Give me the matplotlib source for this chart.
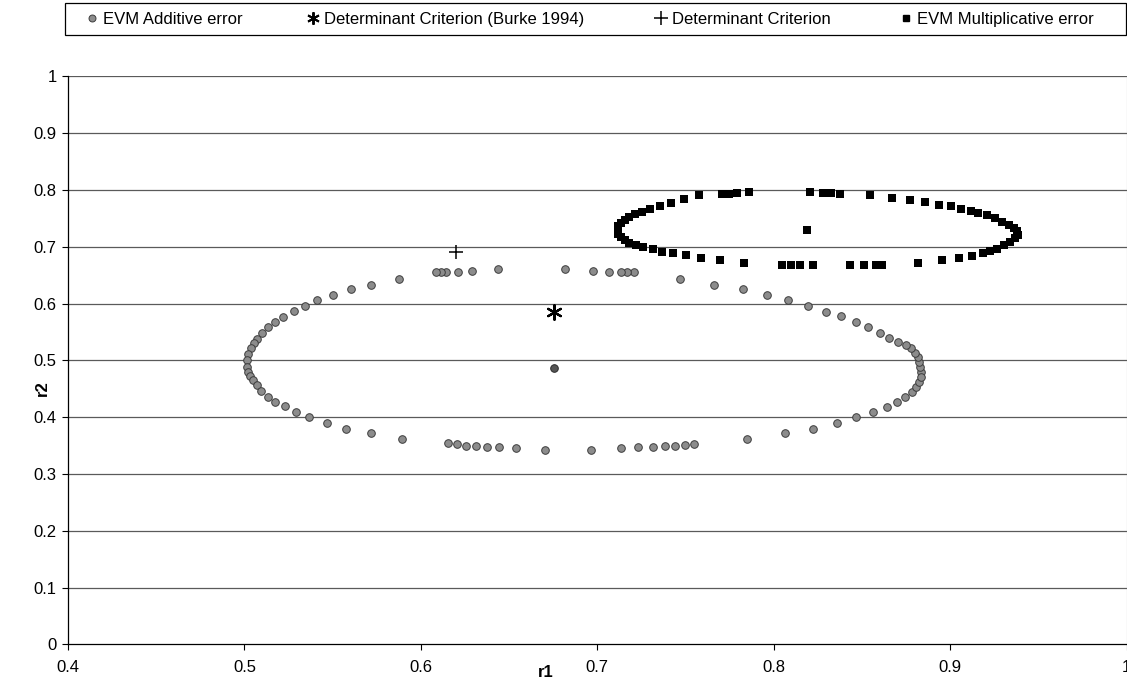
import matplotlib
matplotlib.use("Agg")
import matplotlib.pyplot as plt
from matplotlib.lines import Line2D
from matplotlib.patches import Rectangle

plt.rcParams["font.family"] = ["Liberation Sans", "DejaVu Sans"]

# EVM additive error confidence region (points around the ellipse)
add_r1 = [0.8834, 0.8830, 0.8824, 0.8815, 0.8802, 0.8777, 0.8749, 0.8702, 0.8655, 0.8600,
          0.8533, 0.8464, 0.8383, 0.8294, 0.8195, 0.8082, 0.7960, 0.7823, 0.7660, 0.7470,
          0.7210, 0.7168, 0.7134, 0.7065, 0.6975, 0.6815, 0.6439, 0.6287, 0.6212, 0.6145,
          0.6115, 0.6085, 0.5876, 0.5716, 0.5604, 0.5504, 0.5410, 0.5341, 0.5279, 0.5219,
          0.5176, 0.5134, 0.5102, 0.5072, 0.5054, 0.5035, 0.5021, 0.5012, 0.5016, 0.5021,
          0.5031, 0.5050, 0.5069, 0.5093, 0.5134, 0.5172, 0.5232, 0.5294, 0.5365, 0.5466,
          0.5576, 0.5716, 0.5895, 0.6153, 0.6203, 0.6254, 0.6310, 0.6373, 0.6445, 0.6542,
          0.6706, 0.6965, 0.7134, 0.7228, 0.7314, 0.7382, 0.7440, 0.7495, 0.7547, 0.7848,
          0.8064, 0.8224, 0.8359, 0.8468, 0.8561, 0.8640, 0.8699, 0.8744, 0.8781, 0.8806,
          0.8824, 0.8834]
add_r2 = [0.479, 0.488, 0.497, 0.506, 0.513, 0.521, 0.527, 0.532, 0.540, 0.549,
          0.559, 0.567, 0.578, 0.586, 0.596, 0.606, 0.615, 0.625, 0.633, 0.643,
          0.655, 0.655, 0.655, 0.656, 0.657, 0.661, 0.661, 0.657, 0.655, 0.655,
          0.655, 0.655, 0.643, 0.633, 0.625, 0.615, 0.606, 0.595, 0.587, 0.577,
          0.567, 0.559, 0.549, 0.538, 0.531, 0.521, 0.512, 0.500, 0.489, 0.479,
          0.472, 0.465, 0.456, 0.447, 0.436, 0.426, 0.419, 0.409, 0.400, 0.390,
          0.379, 0.372, 0.362, 0.354, 0.352, 0.349, 0.349, 0.348, 0.348, 0.345,
          0.343, 0.343, 0.346, 0.348, 0.348, 0.350, 0.350, 0.351, 0.353, 0.362,
          0.372, 0.380, 0.390, 0.400, 0.409, 0.418, 0.426, 0.435, 0.444, 0.453,
          0.462, 0.471]
add_center = (0.6755, 0.487)

# EVM multiplicative error confidence region
mult_r1 = [0.7576, 0.7707, 0.7744, 0.7792, 0.7861, 0.8204, 0.8279, 0.8327, 0.8374, 0.8546,
           0.8670, 0.8774, 0.8858, 0.8937, 0.9003, 0.9063, 0.9115, 0.9160, 0.9210, 0.9256,
           0.9294, 0.9331, 0.9360, 0.9378, 0.9384, 0.9369, 0.9341, 0.9303, 0.9266, 0.9228,
           0.9185, 0.9125, 0.9050, 0.8952, 0.8820, 0.8615, 0.8577, 0.8511, 0.8434, 0.8220,
           0.8148, 0.8096, 0.8045, 0.7831, 0.7693, 0.7589, 0.7500, 0.7431, 0.7369, 0.7313,
           0.7260, 0.7220, 0.7180, 0.7155, 0.7135, 0.7120, 0.7115, 0.7115, 0.7120, 0.7135,
           0.7155, 0.7180, 0.7215, 0.7255, 0.7300, 0.7355, 0.7420, 0.7490]
mult_r2 = [0.7915, 0.793, 0.793, 0.7945, 0.797, 0.797, 0.7945, 0.7945, 0.793, 0.791,
           0.786, 0.782, 0.7786, 0.7744, 0.771, 0.767, 0.763, 0.760, 0.756, 0.750,
           0.744, 0.7385, 0.733, 0.727, 0.721, 0.715, 0.709, 0.703, 0.697, 0.693,
           0.6895, 0.684, 0.681, 0.677, 0.672, 0.668, 0.668, 0.668, 0.668, 0.668,
           0.668, 0.668, 0.668, 0.672, 0.677, 0.681, 0.6855, 0.6885, 0.6913, 0.6955,
           0.699, 0.703, 0.707, 0.712, 0.717, 0.722, 0.727, 0.732, 0.737, 0.742,
           0.747, 0.752, 0.757, 0.762, 0.767, 0.7725, 0.778, 0.785]
mult_center = (0.819, 0.7297)

# point estimates
burke_r1, burke_r2 = [0.6755], [0.586]
det_r1, det_r2 = [0.620], [0.690]

x_ticks = [0.4, 0.5, 0.6, 0.7, 0.8, 0.9, 1.0]
x_labels = ["0.4", "0.5", "0.6", "0.7", "0.8", "0.9", "1"]
y_ticks = [0, 0.1, 0.2, 0.3, 0.4, 0.5, 0.6, 0.7, 0.8, 0.9, 1.0]
y_labels = ["0", "0.1", "0.2", "0.3", "0.4", "0.5", "0.6", "0.7", "0.8", "0.9", "1"]

GRAY_FC, GRAY_EC = "#8c8c8c", "#3c3c3c"
STAR = (6, 2, 0)
FS = 12

fig = plt.figure(figsize=(11.27, 6.8), dpi=100)
ax = fig.add_axes([0.0603, 0.0524, 0.9394, 0.8352])

ax.set_xlim(0.4, 1.0)
ax.set_ylim(0, 1)
ax.set_yticks(y_ticks)
ax.set_yticklabels(y_labels)
ax.set_xticks(x_ticks)
ax.set_xticklabels(x_labels)
ax.tick_params(axis="both", labelsize=FS, direction="out", length=4, width=0.8)
ax.tick_params(axis="x", pad=7)
ax.tick_params(axis="y", pad=4)

for v in y_ticks[1:]:
    ax.axhline(v, color="#5a5a5a", linewidth=0.9, zorder=0)

ax.spines["top"].set_visible(False)
ax.spines["right"].set_color("#9a9a9a")
ax.spines["right"].set_linestyle((0, (1, 1)))
ax.spines["left"].set_linewidth(0.9)
ax.spines["bottom"].set_linewidth(0.9)

ax.scatter(add_r1, add_r2, s=30, c=GRAY_FC, edgecolors=GRAY_EC, linewidths=0.7, zorder=3)
ax.scatter([add_center[0]], [add_center[1]], s=30, c="#555555", edgecolors="#2a2a2a",
           linewidths=0.7, zorder=3)
ax.scatter(mult_r1, mult_r2, s=26, marker="s", c="black", linewidths=0, zorder=3)
ax.scatter([mult_center[0]], [mult_center[1]], s=26, marker="s", c="black", linewidths=0, zorder=3)
ax.scatter(burke_r1, burke_r2, s=110, marker=STAR, c="black", linewidths=1.6, zorder=4)
ax.scatter(det_r1, det_r2, s=90, marker="+", c="black", linewidths=1.1, zorder=4)

ax.set_xlabel("r1", fontsize=FS, fontweight="bold")
ax.xaxis.set_label_coords(0.451, -0.036)
ax.set_ylabel("r2", fontsize=FS, fontweight="bold")
ax.yaxis.set_label_coords(-0.017, 0.451)

# legend strip across the top
fig.patches.append(Rectangle((0.0577, 0.9485), 0.9415, 0.047, transform=fig.transFigure,
                             facecolor="white", edgecolor="black", linewidth=0.9))
entries = [
    (0.0754, Line2D([], [], linestyle="none", marker="o", markersize=5, markerfacecolor=GRAY_FC,
                    markeredgecolor=GRAY_EC, markeredgewidth=0.7), "EVM Additive error"),
    (0.2715, Line2D([], [], linestyle="none", marker=STAR, markersize=9, color="black",
                    markeredgewidth=1.4), "Determinant Criterion (Burke 1994)"),
    (0.5803, Line2D([], [], linestyle="none", marker="+", markersize=10, color="black",
                    markeredgewidth=1.1), "Determinant Criterion"),
    (0.7977, Line2D([], [], linestyle="none", marker="s", markersize=5, color="black"),
     "EVM Multiplicative error"),
]
for x0, handle, label in entries:
    fig.legend([handle], [label], loc="center left", bbox_to_anchor=(x0, 0.972),
               frameon=False, fontsize=FS, handlelength=0.8, handletextpad=0.3,
               borderpad=0, borderaxespad=0)

fig.savefig("out.png", dpi=100)
